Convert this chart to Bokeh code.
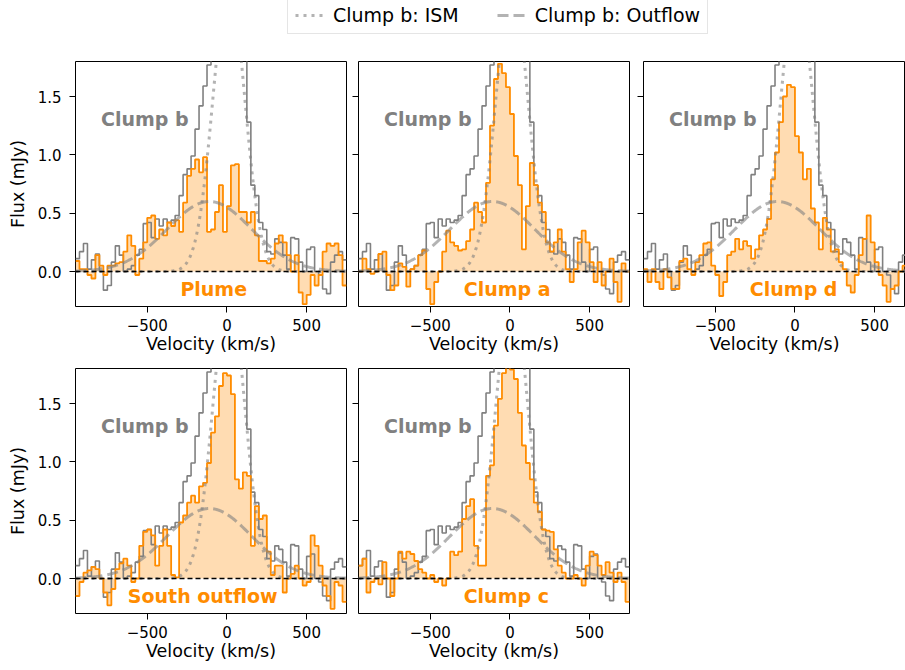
import numpy as np
from bokeh.plotting import figure
from bokeh.layouts import column, row
from bokeh.models import Range1d, FixedTicker, Legend, LegendItem, Label, Span
from bokeh.embed import file_html
from bokeh.resources import INLINE

# ---------------- data ----------------
chan_lo = -950.0      # left edge of first velocity channel (km/s)
chan_w = 25.0         # channel width (km/s)

clump_b = [0.11, 0.17, 0.24, 0.02, 0.10, 0.15, 0.00, -0.16, -0.12, 0.08,
           0.22, 0.14, 0.00, 0.02, 0.05, 0.14, 0.19, 0.41, 0.42, 0.29,
           0.45, 0.39, 0.45, 0.42, 0.44, 0.48, 0.65, 0.83, 0.88, 0.99,
           1.22, 1.42, 1.59, 1.77, 2.20, 2.60, 2.80, 2.90, 2.80, 2.60,
           2.40, 2.10, 1.90, 1.28, 0.74, 0.65, 0.42, 0.36, 0.17, 0.15,
           0.28, 0.25, 0.14, 0.02, 0.29, 0.28, 0.08, 0.00, 0.19, 0.21,
           0.00, -0.03, -0.15, -0.19, 0.08, 0.14, 0.17, 0.10]

plume = [0.09, 0.02, 0.02, -0.03, -0.06, 0.14, 0.05, -0.03, 0.05, 0.05,
         0.07, 0.08, 0.17, 0.31, 0.22, -0.03, 0.11, 0.25, 0.46, 0.48,
         0.28, 0.36, 0.31, 0.42, 0.39, 0.44, 0.34, 0.59, 0.82, 0.88,
         0.96, 0.85, 0.98, 0.34, 0.36, 0.51, 0.74, 0.34, 0.56, 0.91,
         0.92, 0.51, 0.51, 0.42, 0.51, 0.31, 0.09, 0.09, 0.07, 0.11,
         0.24, 0.31, 0.25, 0.14, 0.00, 0.14, -0.18, -0.28, -0.20, -0.03,
         -0.12, -0.03, 0.17, 0.24, 0.22, 0.24, 0.14, -0.12]

clump_a = [0.00, 0.11, 0.02, -0.02, 0.00, 0.15, 0.17, -0.03, -0.16, -0.12,
           0.07, 0.04, -0.13, 0.02, 0.05, 0.14, 0.18, -0.15, -0.28, -0.09,
           0.00, 0.17, 0.35, 0.25, 0.22, 0.18, 0.19, 0.26, 0.36, 0.59,
           0.51, 0.42, 0.76, 1.25, 1.65, 1.78, 1.70, 1.58, 1.35, 0.99,
           0.74, 0.19, 0.56, 0.93, 0.74, 0.59, 0.51, 0.25, 0.17, 0.25,
           0.36, 0.17, 0.02, -0.09, 0.02, 0.25, 0.35, 0.25, 0.08, -0.09,
           0.08, -0.12, 0.00, 0.11, -0.09, -0.26, 0.07, 0.00]

clump_d = [0.02, -0.09, 0.02, -0.09, -0.15, 0.02, -0.05, -0.15, -0.15, 0.09,
           0.11, 0.02, -0.03, 0.08, 0.14, 0.24, 0.25, 0.05, -0.03, -0.21,
           -0.09, 0.14, 0.17, 0.28, 0.19, 0.26, 0.22, 0.11, 0.19, 0.31,
           0.36, 0.45, 0.79, 1.02, 1.28, 1.50, 1.60, 1.58, 1.16, 1.02,
           0.79, 0.88, 0.54, 0.42, 0.19, 0.46, 0.36, 0.17, 0.19, 0.08,
           0.02, -0.12, -0.18, -0.03, 0.14, 0.28, 0.48, 0.25, 0.08, -0.03,
           -0.12, -0.26, -0.15, -0.12, 0.00, 0.05, 0.05, 0.10]

south_outflow = [-0.15, -0.03, 0.05, 0.07, 0.10, 0.08, 0.00, -0.12, -0.23, -0.09,
                 0.08, 0.13, 0.17, 0.11, -0.03, 0.00, 0.28, 0.40, 0.42, 0.37,
                 0.11, 0.28, 0.42, 0.28, 0.03, 0.01, 0.48, 0.54, 0.65, 0.71,
                 0.65, 0.79, 0.82, 0.99, 1.25, 1.39, 1.65, 1.76, 1.74, 1.58,
                 0.85, 0.77, 0.91, 0.88, 0.28, 0.62, 0.51, 0.54, 0.23, 0.03,
                 0.11, 0.11, -0.12, 0.00, 0.04, 0.11, 0.00, -0.06, -0.03, 0.37,
                 0.28, 0.11, -0.06, -0.15, -0.26, -0.03, -0.06, -0.20]

clump_c = [0.11, 0.17, -0.12, -0.03, 0.00, -0.05, 0.14, 0.00, -0.15, 0.00,
           0.23, 0.17, 0.23, 0.21, 0.15, 0.08, 0.05, 0.00, 0.03, -0.03,
           0.00, -0.06, 0.00, 0.23, 0.20, 0.23, 0.51, 0.62, 0.68, 0.28,
           0.11, 0.11, 0.88, 0.97, 1.31, 1.54, 1.76, 1.82, 1.79, 1.71,
           1.42, 1.14, 0.99, 0.85, 0.65, 0.57, 0.42, 0.41, 0.40, 0.25,
           0.11, 0.05, 0.00, 0.00, 0.03, 0.00, -0.06, 0.11, 0.23, 0.20,
           0.11, 0.03, 0.14, 0.05, -0.03, 0.05, -0.03, -0.20]

# Gaussian fit parameters of Clump b (amplitude mJy, centre km/s, sigma km/s)
ism_amp, ism_cen, ism_sig = 2.45, 12.0, 100.0
out_amp, out_cen, out_sig = 0.60, -110.0, 265.0

region_names = ["Plume", "Clump a", "Clump d", "South outflow", "Clump c"]
region_spectra = [plume, clump_a, clump_d, south_outflow, clump_c]

x_ticks = [-500, 0, 500]
x_tick_labels = ["\u2212500", "0", "500"]
y_ticks = [0.0, 0.5, 1.0, 1.5]
y_tick_labels = ["0.0", "0.5", "1.0", "1.5"]

# ---------------- style ----------------
GREY = "#808080"
ORANGE = "#ff8c00"
FONT = "DejaVu Sans"
X_LO, X_HI = -950.0, 750.0
Y_LO, Y_HI = -0.3, 1.8
PX_PER_KMS = 271.0 / (X_HI - X_LO)

name_x = [-83, -17, -8, -152, -23]
name_y = -0.15
ref_x, ref_y = -515, 1.31


def step_arrays(vals):
    edges = chan_lo + chan_w * np.arange(len(vals) + 1)
    ys = list(vals) + [vals[-1]]
    return edges, np.array(ys)


def make_panel(vals, name, nx, show_ylab, frame_w, left, right, top, bottom):
    x_hi = X_LO + frame_w / PX_PER_KMS
    p = figure(frame_width=frame_w, frame_height=245,
               x_range=Range1d(X_LO, x_hi), y_range=Range1d(Y_LO, Y_HI),
               min_border_left=left, min_border_right=right,
               min_border_top=top, min_border_bottom=bottom,
               output_backend="svg", toolbar_location=None,
               background_fill_color="white", border_fill_color="white")
    p.grid.visible = False
    p.outline_line_color = "black"
    p.outline_line_width = 1

    for ax in (p.xaxis[0], p.yaxis[0]):
        ax.axis_line_color = None
        ax.major_tick_in = 0
        ax.major_tick_out = 6
        ax.major_tick_line_color = "black"
        ax.minor_tick_line_color = None
        ax.major_label_text_font = FONT
        ax.major_label_text_font_size = "15px"
        ax.major_label_text_color = "black"
        ax.axis_label_text_font = FONT
        ax.axis_label_text_font_size = "17.5px"
        ax.axis_label_text_font_style = "normal"
        ax.axis_label_text_color = "black"

    p.xaxis.ticker = FixedTicker(ticks=x_ticks)
    p.xaxis.major_label_overrides = dict(zip(x_ticks, x_tick_labels))
    p.xaxis.major_label_standoff = 6
    p.xaxis.axis_label = "Velocity (km/s)"
    p.xaxis.axis_label_standoff = 0

    p.yaxis.ticker = FixedTicker(ticks=y_ticks)
    if show_ylab:
        p.yaxis.major_label_overrides = dict(zip(y_ticks, y_tick_labels))
        p.yaxis.major_label_standoff = 8
        p.yaxis.axis_label = "Flux (mJy)"
        p.yaxis.axis_label_standoff = 7
    else:
        p.yaxis.major_label_overrides = {t: "" for t in y_ticks}
        p.yaxis.major_label_standoff = 0

    ex, ey = step_arrays(vals)
    bx, by = step_arrays(clump_b)
    p.varea_step(x=ex, y1=np.zeros(len(ex)), y2=ey, step_mode="after",
                 fill_color=ORANGE, fill_alpha=0.3)
    p.step(bx, by, mode="after", line_color=GREY, line_width=1.6)
    p.step(ex, ey, mode="after", line_color=ORANGE, line_width=1.8)

    vv = np.linspace(X_LO, X_HI, 500)
    ism = ism_amp * np.exp(-0.5 * ((vv - ism_cen) / ism_sig) ** 2)
    out = out_amp * np.exp(-0.5 * ((vv - out_cen) / out_sig) ** 2)
    p.line(vv, ism, line_color=GREY, line_alpha=0.6, line_width=3,
           line_dash="3 5", line_cap="butt")
    p.line(vv, out, line_color=GREY, line_alpha=0.6, line_width=3,
           line_dash="11 5", line_cap="butt")

    p.add_layout(Span(location=0, dimension="width", line_color="black",
                      line_width=1.3, line_dash="5 3"))

    p.add_layout(Label(x=ref_x, y=ref_y, text="Clump b", text_color=GREY,
                       text_font=FONT, text_font_style="bold",
                       text_font_size="19px", text_align="center",
                       text_baseline="middle"))
    p.add_layout(Label(x=nx, y=name_y, text=name, text_color=ORANGE,
                       text_font=FONT, text_font_style="bold",
                       text_font_size="19px", text_align="center",
                       text_baseline="middle"))
    return p


# row 1
p1 = make_panel(region_spectra[0], region_names[0], name_x[0], True, 271, 75, 2, 12, 54)
p2 = make_panel(region_spectra[1], region_names[1], name_x[1], False, 271, 10, 2, 12, 54)
p3 = make_panel(region_spectra[2], region_names[2], name_x[2], False, 262, 12, 0, 12, 54)
# row 2
p4 = make_panel(region_spectra[3], region_names[3], name_x[3], True, 271, 75, 2, 8, 49)
p5 = make_panel(region_spectra[4], region_names[4], name_x[4], False, 271, 10, 2, 8, 49)

# legend strip (legend samples use points outside the strip's ranges)
leg = figure(width=905, height=49, x_range=Range1d(0, 1), y_range=Range1d(0, 1),
             x_axis_location=None, y_axis_location=None, min_border=0,
             output_backend="svg", toolbar_location=None,
             outline_line_color=None)
leg.grid.visible = False
r_ism = leg.line(x=[5, 6], y=[5, 6], line_color=GREY, line_alpha=0.6, line_width=3,
                 line_dash="3 5", line_cap="butt")
r_out = leg.line(x=[5, 6], y=[5, 6], line_color=GREY, line_alpha=0.6, line_width=3,
                 line_dash="11 5", line_cap="butt")
legend = Legend(items=[LegendItem(label="Clump b: ISM", renderers=[r_ism]),
                       LegendItem(label="Clump b: Outflow", renderers=[r_out])],
                orientation="horizontal", location=(287, 15),
                glyph_width=28, glyph_height=18, label_height=18,
                label_standoff=10, spacing=38, padding=7, margin=0,
                label_text_font=FONT, label_text_font_size="19px",
                label_text_color="black",
                border_line_color="#cccccc", border_line_width=1,
                background_fill_color="white", background_fill_alpha=1.0)
leg.add_layout(legend)

layout = column(leg, row(p1, p2, p3), row(p4, p5))

with open("out.html", "w") as f:
    f.write(file_html(layout, INLINE))
